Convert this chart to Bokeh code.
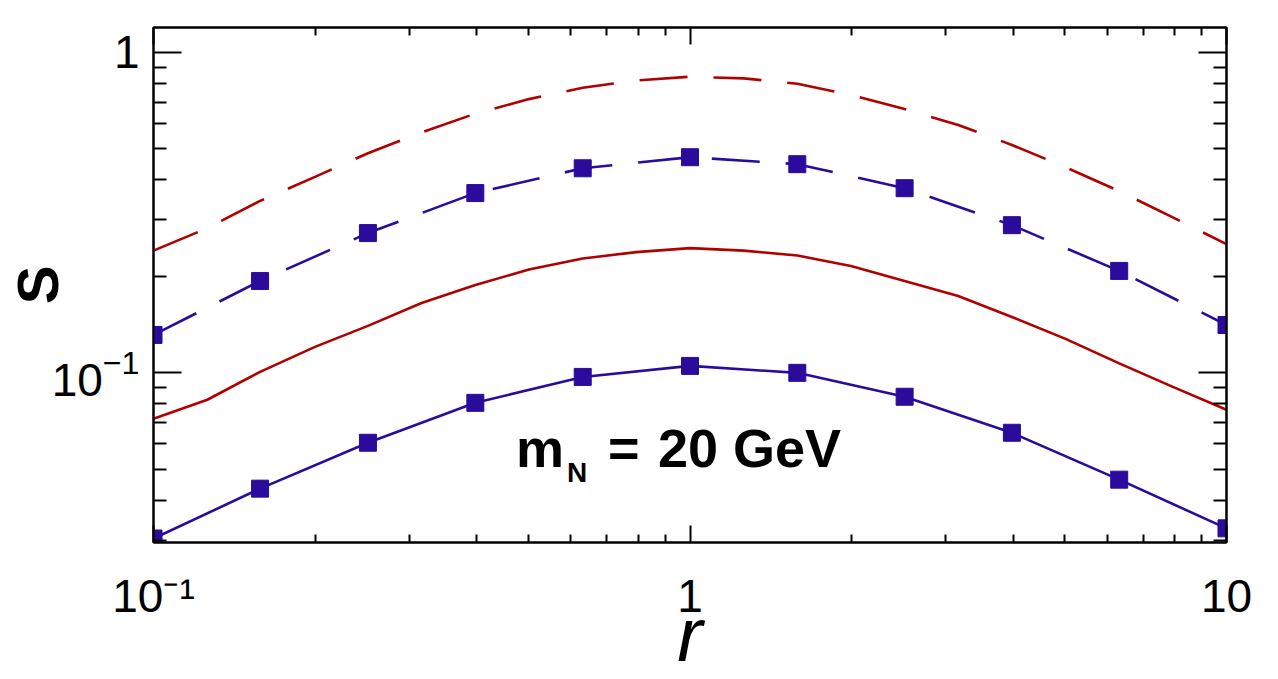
from bokeh.plotting import figure
from bokeh.models import LogAxis, FixedTicker, CustomJSTickFormatter, LogTickFormatter, Label, Range1d
from bokeh.embed import file_html
from bokeh.resources import INLINE

# ---------------- data ----------------
r_fine = [0.1, 0.126, 0.158, 0.2, 0.251, 0.316, 0.398, 0.501, 0.631, 0.794, 1.0,
          1.259, 1.585, 1.995, 2.512, 3.162, 3.981, 5.012, 6.31, 7.943, 10.0]
red_solid = [0.0719, 0.0824, 0.1007, 0.1205, 0.1401, 0.1652, 0.1880, 0.2101, 0.2273, 0.2381, 0.2451,
             0.2407, 0.2323, 0.2154, 0.1934, 0.1738, 0.1494, 0.1276, 0.1070, 0.0904, 0.0767]
red_dashed = [0.2407, 0.2829, 0.3440, 0.4089, 0.4846, 0.5632, 0.6442, 0.7151, 0.7762, 0.8180, 0.8400,
              0.8299, 0.7990, 0.7361, 0.6659, 0.5937, 0.5144, 0.4383, 0.3690, 0.3055, 0.2522]

r_mark = [0.1, 0.158, 0.251, 0.398, 0.631, 1.0, 1.585, 2.512, 3.981, 6.31, 10.0]
blue_solid = [0.0304, 0.0435, 0.0605, 0.0806, 0.0971, 0.1051, 0.1000, 0.0842, 0.0650, 0.0464, 0.0327]
blue_dashed = [0.1313, 0.1935, 0.2730, 0.3640, 0.4350, 0.4710, 0.4480, 0.3770, 0.2890, 0.2080, 0.1410]

x_major = [0.1, 1, 10]
x_minor = [0.2, 0.3, 0.4, 0.5, 0.6, 0.7, 0.8, 0.9, 2, 3, 4, 5, 6, 7, 8, 9]
y_major = [0.1, 1]
y_minor = [0.03, 0.04, 0.05, 0.06, 0.07, 0.08, 0.09, 0.2, 0.3, 0.4, 0.5, 0.6, 0.7, 0.8, 0.9]
x_tick_text = {0.1: "10\u207b\u00b9", 1: "1", 10: "10"}
y_plain = {1: "1"}   # 0.1 keeps the 10^-1 form of the log formatter

XMIN, XMAX = 0.1, 10.0
YMIN, YMAX = 0.02954, 1.1964

RED = "#B00000"
BLUE = "#2B0B9C"
FONT = "Liberation Sans"

# ---------------- figure ----------------
p = figure(width=1278, height=679, x_axis_type="log", y_axis_type="log",
           x_range=Range1d(XMIN, XMAX), y_range=Range1d(YMIN, YMAX),
           output_backend="svg", toolbar_location=None,
           min_border_left=153, min_border_right=52, min_border_top=27, min_border_bottom=136)
p.grid.visible = False
p.outline_line_color = "black"
p.outline_line_width = 2
p.background_fill_color = "white"
p.border_fill_color = "white"


def style_axis(ax, major_in, minor_in, ticks_major, ticks_minor):
    ax.ticker = FixedTicker(ticks=ticks_major, minor_ticks=ticks_minor)
    ax.major_tick_in = major_in
    ax.major_tick_out = 0
    ax.minor_tick_in = minor_in
    ax.minor_tick_out = 0
    ax.major_tick_line_width = 2
    ax.minor_tick_line_width = 2
    ax.major_tick_line_color = "black"
    ax.minor_tick_line_color = "black"
    ax.axis_line_width = 2
    ax.axis_line_color = "black"
    ax.major_label_text_font = FONT
    ax.major_label_text_color = "black"
    ax.axis_label_text_font = FONT
    ax.axis_label_text_color = "black"


xa = p.xaxis[0]
ya = p.yaxis[0]
style_axis(xa, 17, 8, x_major, x_minor)
style_axis(ya, 28, 13, y_major, y_minor)
xa.formatter = LogTickFormatter(min_exponent=0)
ya.formatter = LogTickFormatter(min_exponent=0)
xa.major_label_overrides = x_tick_text
ya.major_label_overrides = y_plain
xa.major_label_text_font_size = "46px"
ya.major_label_text_font_size = "46px"
xa.major_label_standoff = 27
ya.major_label_standoff = 14

xa.axis_label = "r"
xa.axis_label_text_font_size = "76px"
xa.axis_label_text_font_style = "italic"
xa.axis_label_standoff = -33
ya.axis_label = "S"
ya.axis_label_text_font_size = "58px"
ya.axis_label_text_font_style = "bold"
ya.axis_label_standoff = -21

empty = CustomJSTickFormatter(code="return ''")
top_ax = LogAxis()
right_ax = LogAxis()
for ax in (top_ax, right_ax):
    ax.formatter = empty
    ax.major_label_text_font_size = "0px"
    ax.major_label_standoff = 0
style_axis(top_ax, 17, 8, x_major, x_minor)
style_axis(right_ax, 28, 13, y_major, y_minor)
p.add_layout(top_ax, "above")
p.add_layout(right_ax, "right")

# ---------------- curves ----------------
p.line(r_fine, red_dashed, line_color=RED, line_width=2.6, line_dash="48 26")
p.line(r_fine, red_solid, line_color=RED, line_width=2.6)
p.line(r_mark, blue_dashed, line_color=BLUE, line_width=2.6, line_dash="48 26")
p.line(r_mark, blue_solid, line_color=BLUE, line_width=2.6)
p.scatter(r_mark, blue_dashed, marker="square", size=17, fill_color=BLUE, line_color=BLUE, line_width=1)
p.scatter(r_mark, blue_solid, marker="square", size=17, fill_color=BLUE, line_color=BLUE, line_width=1)


# ---------------- annotation m_N = 20 GeV ----------------
def lab(x, y, text, xo=0, yo=0, size=46):
    p.add_layout(Label(x=x, y=y, text=text, x_offset=xo, y_offset=yo,
                       text_font=FONT, text_font_size=f"{size}px", text_font_style="bold",
                       text_align="left", text_baseline="alphabetic", text_color="black"))


lab(1, 0.1, "m", xo=-174, yo=-75, size=54)
lab(1, 0.1, "N", xo=-123, yo=-100, size=28)
lab(1, 0.1, "=", xo=-82, yo=-75, size=54)
lab(1, 0.1, "20 GeV", xo=-32, yo=-75, size=54)

open("out.html", "w").write(file_html(p, INLINE))
